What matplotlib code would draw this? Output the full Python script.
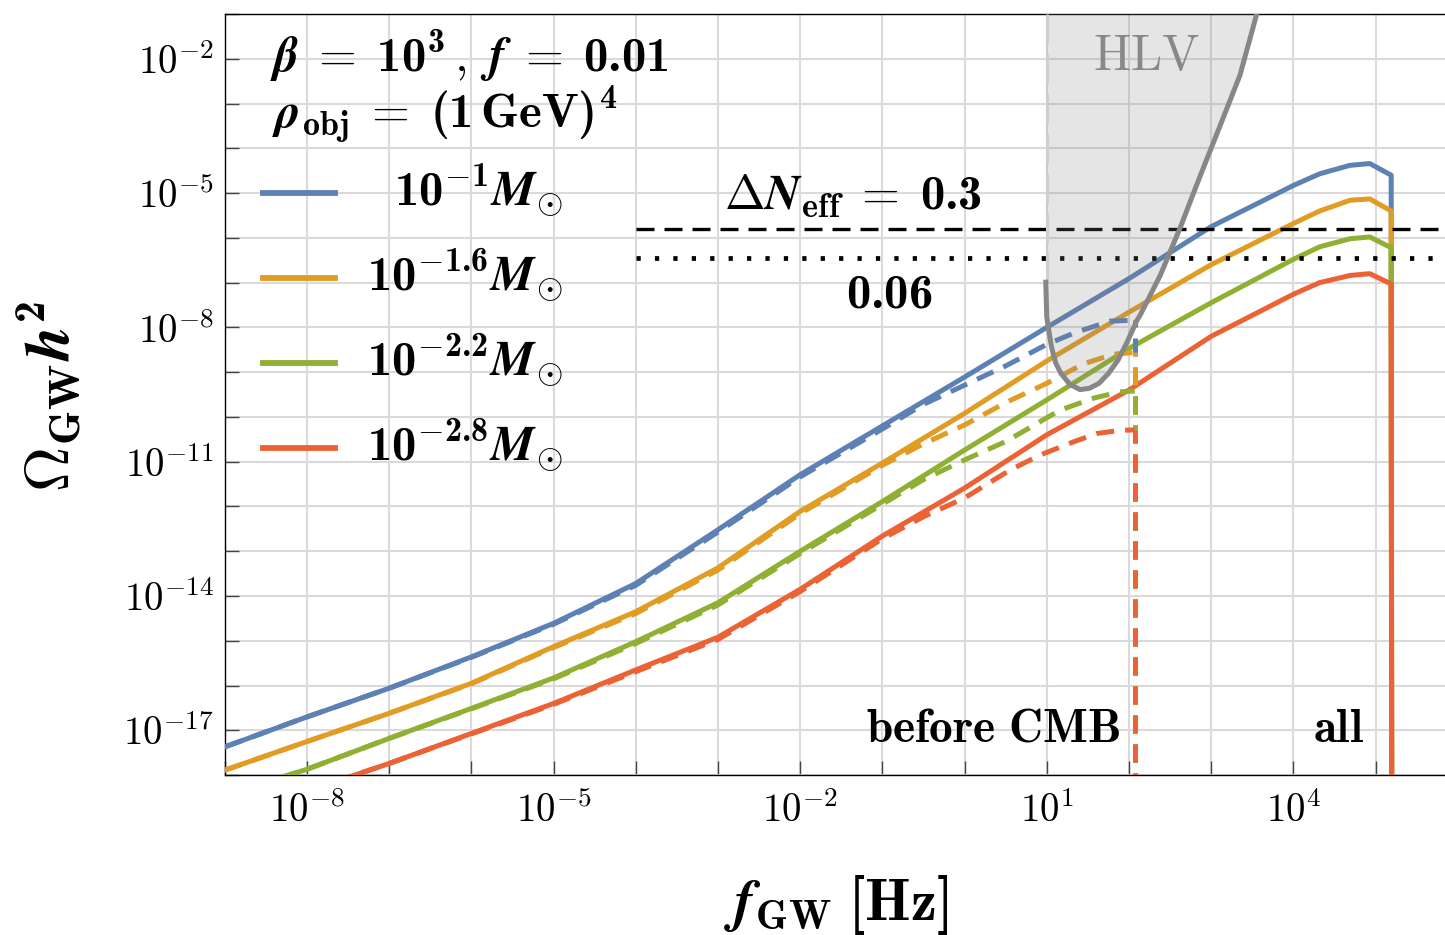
import numpy as np
import matplotlib
matplotlib.use("Agg")
import matplotlib.pyplot as plt
from matplotlib.lines import Line2D

plt.rcParams["mathtext.fontset"] = "custom"
plt.rcParams["mathtext.rm"] = "cmr10"
plt.rcParams["mathtext.it"] = "cmmi10"
plt.rcParams["mathtext.bf"] = "cmb10"
plt.rcParams["mathtext.bfit"] = "STIXGeneral:italic:bold"
plt.rcParams["mathtext.sf"] = "cmss10"
plt.rcParams["mathtext.tt"] = "cmtt10"
plt.rcParams["mathtext.cal"] = "cmsy10"
plt.rcParams["mathtext.fallback"] = "cm"
plt.rcParams["axes.unicode_minus"] = True

# ---------------- data (log10 values) ----------------
BOTTOM = -25.0  # curves drop vertically below the axis

LOGF_SOLID = [-9, -8, -7, -6, -5, -4, -3, -2, -1, 0, 1, 2, 3, 4, 4.32, 4.69, 4.93, 5.19, 5.20]
BLUE_SOLID = [-17.37, -16.70, -16.06, -15.36, -14.61, -13.72, -12.52, -11.29, -10.20, -9.11,
              -8.00, -6.91, -5.75, -4.83, -4.57, -4.38, -4.34, -4.60, BOTTOM]
ORANGE_SOLID = [-17.89, -17.25, -16.62, -15.95, -15.13, -14.35, -13.37, -12.11, -11.03, -9.92,
                -8.75, -7.66, -6.60, -5.68, -5.40, -5.16, -5.13, -5.40, BOTTOM]
GREEN_SOLID = [-18.45, -17.87, -17.18, -16.51, -15.83, -15.02, -14.15, -13.00, -11.89, -10.74,
               -9.62, -8.47, -7.45, -6.48, -6.20, -6.02, -5.98, -6.22, BOTTOM]
RED_SOLID = [-19.00, -18.36, -17.74, -17.07, -16.40, -15.65, -14.92, -13.85, -12.66, -11.59,
             -10.40, -9.40, -8.20, -7.26, -7.00, -6.84, -6.80, -7.03, BOTTOM]

# "before CMB" curves (end with a vertical drop at the last frequency)
LOGF_DASH_BLUE = [-9, -8, -7, -6, -5, -4, -3, -2, -1, -0.5, 0, 0.5, 1.0, 1.34, 1.77, 2.07]
BLUE_DASH = [-17.37, -16.70, -16.06, -15.37, -14.63, -13.76, -12.57, -11.34, -10.27, -9.72,
             -9.29, -8.86, -8.38, -8.12, -7.86, -7.84]
LOGF_DASH_ORANGE = [-9, -8, -7, -6, -5, -4, -3, -2, -1, -0.5, 0, 0.5, 1.0, 1.44, 1.81, 2.07]
ORANGE_DASH = [-17.89, -17.25, -16.62, -15.96, -15.15, -14.39, -13.42, -12.16, -11.08, -10.60,
               -10.18, -9.68, -9.25, -8.82, -8.60, -8.56]
LOGF_DASH_GREEN = [-9, -8, -7, -6, -5, -4, -3, -2, -1, -0.5, 0, 0.5, 1.16, 1.57, 1.89, 2.07]
GREEN_DASH = [-18.45, -17.87, -17.18, -16.52, -15.85, -15.06, -14.20, -13.05, -11.95, -11.40,
              -10.96, -10.55, -9.85, -9.58, -9.44, -9.42]
LOGF_DASH_RED = [-9, -8, -7, -6, -5, -4, -3, -2, -1, -0.5, 0, 0.55, 0.92, 1.32, 1.61, 1.89, 2.07]
RED_DASH = [-19.00, -18.36, -17.74, -17.08, -16.42, -15.69, -14.97, -13.90, -12.72, -12.23,
            -11.81, -11.19, -10.85, -10.56, -10.37, -10.30, -10.29]

# HLV sensitivity curve
HLV_LOGF = [0.988, 1.0, 1.057, 1.11, 1.173, 1.28, 1.404, 1.52, 1.635, 1.75, 1.867, 1.98, 2.098,
            2.135, 2.38, 2.62, 2.87, 3.11, 3.35, 3.55, 3.60]
HLV_LOGO = [-6.99, -7.77, -8.44, -8.80, -9.03, -9.27, -9.39, -9.36, -9.25, -9.03, -8.73, -8.32,
            -7.84, -7.73, -6.84, -5.79, -4.60, -3.49, -2.37, -1.03, -0.70]

DNEFF_03 = -5.80
DNEFF_006 = -6.46
DNEFF_START = -4.0

LABELS = [r"$\mathbf{10^{-1}}\boldsymbol{M}_{\odot}$",
          r"$\mathbf{10^{-1.6}}\boldsymbol{M}_{\odot}$",
          r"$\mathbf{10^{-2.2}}\boldsymbol{M}_{\odot}$",
          r"$\mathbf{10^{-2.8}}\boldsymbol{M}_{\odot}$"]
COLORS = ["#5E81B5", "#E19C24", "#8FB032", "#EB6235"]

XTICKS = [-8, -5, -2, 1, 4]
YTICKS = [-2, -5, -8, -11, -14, -17]

# ---------------- figure ----------------
W, H = 1445, 935
fig = plt.figure(figsize=(W / 100, H / 100), dpi=100)
ax = fig.add_axes([224.8 / W, 1 - 775.1 / H, 1 - 224.8 / W, (775.1 - 14.0) / H])
ax.set_xscale("log")
ax.set_yscale("log")
ax.set_xlim(1e-9, 10 ** 5.845)
ax.set_ylim(1e-18, 1e-1)

p = lambda a: 10.0 ** np.asarray(a, dtype=float)

solids = [BLUE_SOLID, ORANGE_SOLID, GREEN_SOLID, RED_SOLID]
dashes = [(LOGF_DASH_BLUE, BLUE_DASH), (LOGF_DASH_ORANGE, ORANGE_DASH),
          (LOGF_DASH_GREEN, GREEN_DASH), (LOGF_DASH_RED, RED_DASH)]
LW = 3.6
DASH = (0, (3.6, 2.2))
for ys, c in zip(solids, COLORS):
    ax.plot(p(LOGF_SOLID), p(ys), color=c, lw=LW, zorder=3)
for (xs, ys), c in zip(dashes, COLORS):
    ax.plot(p(xs), p(ys), color=c, lw=LW, ls=DASH, zorder=4)
    # vertical drop, drawn from below the axis so the dash phases line up
    ax.plot(p([xs[-1], xs[-1]]), p([BOTTOM, ys[-1]]), color=c, lw=LW, ls=DASH, zorder=4)

# Delta N_eff lines
ax.plot([10 ** DNEFF_START, 1e7], [10 ** DNEFF_03] * 2, color="black", lw=2.4,
        ls=(0, (5.4, 3.0)), zorder=5)
ax.plot([10 ** DNEFF_START, 1e7], [10 ** DNEFF_006] * 2, color="black", lw=3.4,
        ls=(0, (0.9, 3.0)), zorder=5)

# HLV region
hx = p(HLV_LOGF)
hy = p(HLV_LOGO)
ax.fill_between(hx, hy, 1.0, color="#808080", alpha=0.2, lw=0, zorder=6)
ax.plot(hx, hy, color="#878787", lw=3.6, zorder=7)
ax.plot([10 ** HLV_LOGF[1]] * 2, [1e-1, 10 ** HLV_LOGO[0]], color="#cfcfcf", lw=2.2,
        ls=(0, (10, 3)), zorder=6)

# axes styling
ax.set_xticks(p(XTICKS))
ax.set_xticklabels([r"$10^{%d}$" % v for v in XTICKS])
ax.set_xticks(p(np.arange(-9, 6)), minor=True)
ax.set_yticks(p(YTICKS))
ax.set_yticklabels([r"$10^{%d}$" % v for v in YTICKS])
ax.set_yticks(p(np.arange(-18, 0)), minor=True)
ax.xaxis.set_minor_formatter(matplotlib.ticker.NullFormatter())
ax.yaxis.set_minor_formatter(matplotlib.ticker.NullFormatter())
ax.tick_params(which="both", direction="in", length=10, width=1.0, color="#444444",
               top=False, right=False, labelsize=28)
ax.tick_params(axis="x", which="major", pad=12)
ax.tick_params(axis="y", which="major", pad=8)
ax.grid(True, which="both", color="#dadada", lw=1.5, zorder=1)
ax.spines["right"].set_visible(False)
for s in ["left", "bottom", "top"]:
    ax.spines[s].set_linewidth(1.0)

def ftext(px, py, s, **kw):
    fig.text(px / W, 1 - py / H, s, **kw)

ANN = 35
ftext(270, 71, r"$\boldsymbol{\beta}\;=\;\mathbf{10^{3}}\,,\; \boldsymbol{f}\;=\;\mathbf{0.01}$",
      fontsize=ANN, ha="left", va="baseline")
ftext(272, 128, r"$\boldsymbol{\rho}_{\mathbf{obj}}\;=\;\mathbf{(1\,GeV)^{4}}$",
      fontsize=ANN, ha="left", va="baseline")

leg_line_y = [193.3, 278.3, 363.3, 448.3]
leg_base_y = [205, 290, 375, 460]
for lab, c, ly, by in zip(LABELS, COLORS, leg_line_y, leg_base_y):
    fig.add_artist(Line2D([263 / W, 335 / W], [1 - ly / H] * 2, color=c, lw=LW + 0.6))
    ftext(563, by, lab, fontsize=ANN, ha="right", va="baseline")

ftext(724, 210, r"$\mathbf{\Delta}\boldsymbol{N}_{\mathbf{eff}}\;=\;\mathbf{0.3}$",
      fontsize=ANN, ha="left", va="baseline")
ftext(846, 308, r"$\mathbf{0.06}$", fontsize=ANN, ha="left", va="baseline")
ftext(1093, 70, r"$\mathrm{HLV}$", fontsize=36, color="#888888", ha="left", va="baseline")
ftext(1120, 742, r"$\mathbf{before\ CMB}$", fontsize=34, ha="right", va="baseline")
ftext(1313, 742, r"$\mathbf{all}$", fontsize=34, ha="left", va="baseline")

ftext(724, 920, r"$\boldsymbol{f}_{\mathbf{GW}}\;\mathbf{[Hz]}$", fontsize=42,
      ha="left", va="baseline")
ftext(50, 397, r"$\mathbf{\Omega}_{\mathbf{GW}}\boldsymbol{h}^{\mathbf{2}}$", fontsize=45,
      rotation=90, ha="center", va="center")

fig.savefig("out.png", dpi=100)
